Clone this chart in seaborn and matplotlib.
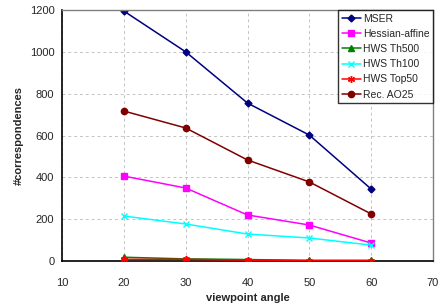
import matplotlib
matplotlib.use("Agg")
import matplotlib.pyplot as plt
import seaborn as sns
import pandas as pd

angles = [20, 30, 40, 50, 60]
mser = [1195, 1000, 755, 602, 344]
hessian_affine = [406, 349, 220, 172, 86]
hws_th500 = [18, 10, 7, 3, 3]
hws_th100 = [215, 177, 129, 110, 76]
hws_top50 = [8, 8, 4, 2, 2]
rec_ao25 = [717, 636, 483, 378, 225]

series = ["MSER", "Hessian-affine", "HWS Th500", "HWS Th100", "HWS Top50", "Rec. AO25"]
values = [mser, hessian_affine, hws_th500, hws_th100, hws_top50, rec_ao25]
colors = ["#000080", "#ff00ff", "#008000", "#00ffff", "#ff0000", "#800000"]
markers = ["D", "s", "^", "x", (6, 2, 0), "o"]
sizes = [3.5, 4.5, 4.5, 5, 5, 4.5]

rows = []
for name, vals in zip(series, values):
    for a, v in zip(angles, vals):
        rows.append({"angle": a, "count": v, "series": name})
df = pd.DataFrame(rows)

sns.set_style("white")
plt.rcParams["font.family"] = ["Liberation Sans", "DejaVu Sans"]

fig = plt.figure(figsize=(4.43, 3.06), dpi=100)
ax = fig.add_axes([62 / 443, 1 - 261 / 306, (433 - 62) / 443, (261 - 10) / 306])

for name, c, m, s in zip(series, colors, markers, sizes):
    sub = df[df["series"] == name]
    # red Top50 line sits on top of the other near-zero lines, as in the original
    z = 3 if name == "HWS Top50" else 2
    sns.lineplot(data=sub, x="angle", y="count", ax=ax, color=c, marker=m,
                 markersize=s, markeredgecolor=c, markeredgewidth=1.0,
                 linewidth=1.1, label=name, zorder=z)

ax.set_xlim(10, 70)
ax.set_ylim(0, 1200)
ax.set_xticks(range(10, 71, 10))
ax.set_yticks(range(0, 1201, 200))
ax.grid(True, color="#c4c4c4", linestyle=(0, (3, 3)), linewidth=0.7)
ax.set_axisbelow(True)

for side in ["top", "right"]:
    ax.spines[side].set_color("#808080")
    ax.spines[side].set_linewidth(1.0)
for side in ["left", "bottom"]:
    ax.spines[side].set_color("black")
    ax.spines[side].set_linewidth(1.2)

ax.tick_params(axis="both", labelsize=8, length=4, direction="inout",
               color="black", width=1)
ax.tick_params(axis="x", length=4, direction="out", pad=8)
ax.set_xlabel("viewpoint angle", fontsize=8, fontweight="bold")
ax.set_ylabel("#correspondences", fontsize=8, fontweight="bold")

leg = ax.legend(loc="upper right", fontsize=7.5, frameon=True, fancybox=False,
                borderaxespad=0, handlelength=1.8, handletextpad=0.2,
                labelspacing=0.5, borderpad=0.35)
leg.get_frame().set_edgecolor("black")
leg.get_frame().set_linewidth(1.0)

fig.savefig("out.png", dpi=100)
